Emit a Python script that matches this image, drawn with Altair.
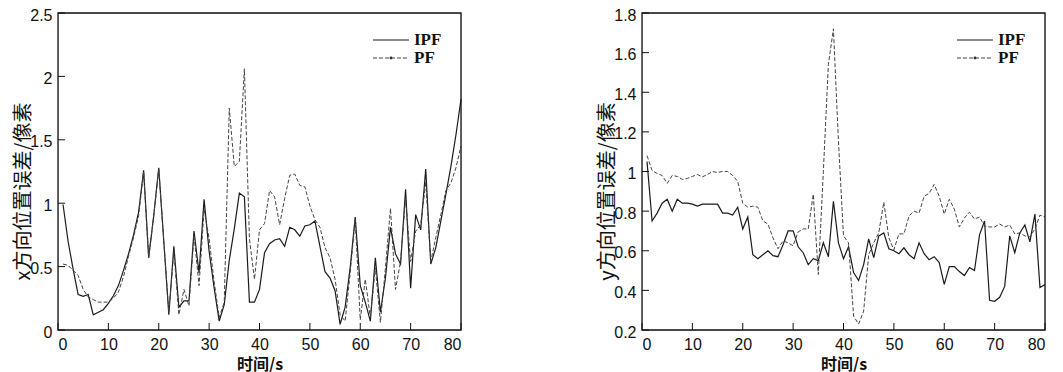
import altair as alt
import pandas as pd

t = list(range(1, 81))

left_ipf = [0.99, 0.70, 0.48, 0.28, 0.265, 0.28, 0.12, 0.14, 0.16, 0.21,
            0.27, 0.35, 0.47, 0.60, 0.75, 0.93, 1.26, 0.57, 0.90, 1.28,
            0.70, 0.12, 0.66, 0.18, 0.23, 0.23, 0.78, 0.45, 1.03, 0.62,
            0.33, 0.07, 0.20, 0.55, 0.80, 1.08, 1.05, 0.22, 0.22, 0.32,
            0.61, 0.68, 0.71, 0.72, 0.66, 0.81, 0.79, 0.74, 0.82, 0.83,
            0.86, 0.66, 0.46, 0.41, 0.31, 0.045, 0.18, 0.49, 0.89, 0.35,
            0.22, 0.07, 0.57, 0.14, 0.41, 0.81, 0.60, 0.52, 1.11, 0.33,
            0.91, 0.79, 1.27, 0.52, 0.65, 0.86, 1.07, 1.29, 1.54, 1.82]

left_pf = [0.52, 0.51, 0.47, 0.43, 0.32, 0.26, 0.24, 0.22, 0.22, 0.22,
           0.25, 0.30, 0.42, 0.58, 0.73, 0.90, 1.25, 0.57, 0.90, 1.27,
           0.70, 0.14, 0.62, 0.12, 0.32, 0.19, 0.75, 0.35, 0.95, 0.72,
           0.38, 0.10, 0.22, 1.75, 1.29, 1.33, 2.06, 0.72, 0.40, 0.79,
           0.84, 1.10, 1.05, 0.83, 1.04, 1.22, 1.23, 1.14, 1.13, 0.98,
           0.87, 0.81, 0.65, 0.57, 0.40, 0.12, 0.07, 0.45, 0.88, 0.08,
           0.40, 0.10, 0.49, 0.06, 0.49, 0.96, 0.32, 0.54, 1.04, 0.54,
           0.78, 0.83, 1.17, 0.54, 0.73, 0.91, 1.10, 1.16, 1.28, 1.45]

right_ipf = [1.05, 0.75, 0.79, 0.84, 0.86, 0.80, 0.86, 0.84, 0.84, 0.835,
             0.825, 0.835, 0.835, 0.835, 0.835, 0.79, 0.79, 0.78, 0.82, 0.71,
             0.77, 0.58, 0.56, 0.58, 0.60, 0.575, 0.57, 0.63, 0.70, 0.70,
             0.62, 0.59, 0.53, 0.56, 0.55, 0.64, 0.57, 0.85, 0.64, 0.56,
             0.62, 0.49, 0.45, 0.53, 0.66, 0.565, 0.675, 0.69, 0.61, 0.60,
             0.585, 0.615, 0.58, 0.56, 0.64, 0.585, 0.555, 0.57, 0.54, 0.43,
             0.52, 0.52, 0.495, 0.475, 0.515, 0.50, 0.68, 0.75, 0.35, 0.345,
             0.365, 0.42, 0.675, 0.59, 0.69, 0.73, 0.645, 0.785, 0.415, 0.43]

right_pf = [1.08, 1.005, 0.99, 0.98, 0.94, 0.98, 0.975, 0.96, 0.965, 0.975,
            0.985, 0.973, 0.985, 1.0, 0.995, 1.0, 1.0, 0.98, 0.95, 0.84,
            0.82, 0.825, 0.82, 0.75, 0.735, 0.665, 0.61, 0.65, 0.64, 0.625,
            0.695, 0.71, 0.71, 0.885, 0.48, 1.0, 1.54, 1.72, 1.15, 0.675,
            0.64, 0.27, 0.23, 0.295, 0.58, 0.64, 0.69, 0.845, 0.665, 0.605,
            0.685, 0.685, 0.775, 0.80, 0.79, 0.875, 0.89, 0.935, 0.875, 0.785,
            0.86, 0.81, 0.72, 0.765, 0.795, 0.76, 0.77, 0.725, 0.72, 0.72,
            0.735, 0.72, 0.73, 0.685, 0.69, 0.675, 0.67, 0.71, 0.78, 0.77]

x_ticks = [0, 10, 20, 30, 40, 50, 60, 70, 80]
left_yticks = [0, 0.5, 1, 1.5, 2, 2.5]
right_yticks = [0.2, 0.4, 0.6, 0.8, 1.0, 1.2, 1.4, 1.6, 1.8]
series_names = ["IPF", "PF"]
x_title = "时间/s"
left_ytitle = "x方向位置误差/像素"
right_ytitle = "y方向位置误差/像素"

W, H = 403, 317
TICK = 7


def panel(ipf, pf, ydom, yticks, ytitle):
    df = pd.DataFrame({"t": t, "IPF": ipf, "PF": pf})
    xs = alt.Scale(domain=[0, 80], nice=False)
    ys = alt.Scale(domain=ydom, nice=False, zero=False)
    xax = alt.Axis(values=x_ticks, ticks=False, grid=False, domain=False, labelOverlap=False,
                   labelFont="Liberation Sans", labelFontSize=16, labelColor="#111",
                   labelPadding=6, title=x_title, titleFont="Noto Sans CJK SC",
                   titleFontSize=16, titleFontWeight="bold", titleColor="#111",
                   titlePadding=4)
    yax = alt.Axis(values=yticks, ticks=False, grid=False, domain=False, format=".1~f",
                   labelOverlap=False, labelOffset=2,
                   labelFont="Liberation Sans", labelFontSize=16, labelColor="#111",
                   labelPadding=6, title=ytitle, titleFont="Noto Sans CJK SC",
                   titleFontSize=20, titleFontWeight="normal", titleColor="#111",
                   titlePadding=-4, titleY=178)
    base = alt.Chart(df)
    l_ipf = base.mark_line(color="#1a1a1a", strokeWidth=1.2).encode(
        x=alt.X("t:Q", scale=xs, axis=xax), y=alt.Y("IPF:Q", scale=ys, axis=yax))
    l_pf = base.mark_line(color="#444444", strokeWidth=1.0, strokeDash=[4, 2]).encode(
        x=alt.X("t:Q", scale=xs, axis=xax), y=alt.Y("PF:Q", scale=ys, axis=yax))
    xt = alt.Chart(pd.DataFrame({"v": x_ticks})).mark_rule(color="#111", strokeWidth=1).encode(
        x=alt.X("v:Q", scale=xs, axis=xax), y=alt.value(H), y2=alt.value(H - TICK))
    yt = alt.Chart(pd.DataFrame({"v": yticks})).mark_rule(color="#111", strokeWidth=1).encode(
        y=alt.Y("v:Q", scale=ys, axis=yax), x=alt.value(0), x2=alt.value(TICK))
    frame = alt.Chart(pd.DataFrame({"f": [0]})).mark_rect(
        fill=None, fillOpacity=0, stroke="#111", strokeWidth=1.3).encode(
        x=alt.value(0), x2=alt.value(W), y=alt.value(0), y2=alt.value(H))
    leg = pd.DataFrame({"name": series_names})
    leg_ipf = alt.Chart(leg[leg.name == "IPF"]).mark_rule(color="#1a1a1a", strokeWidth=1.2).encode(
        x=alt.value(315), x2=alt.value(351), y=alt.value(27))
    leg_pf = alt.Chart(leg[leg.name == "PF"]).mark_rule(color="#444", strokeWidth=1.0, strokeDash=[4, 2]).encode(
        x=alt.value(315), x2=alt.value(351), y=alt.value(45))
    leg_dot = alt.Chart(leg[leg.name == "PF"]).mark_circle(color="#333", size=8, opacity=1).encode(
        x=alt.value(333), y=alt.value(45))
    txt_style = dict(align="left", baseline="middle", font="Liberation Serif",
                     fontSize=17, fontWeight="bold", color="#111")
    leg_t1 = alt.Chart(leg[leg.name == "IPF"]).mark_text(**txt_style).encode(
        x=alt.value(356), y=alt.value(27), text="name:N")
    leg_t2 = alt.Chart(leg[leg.name == "PF"]).mark_text(**txt_style).encode(
        x=alt.value(356), y=alt.value(45), text="name:N")
    return alt.layer(l_ipf, l_pf, xt, yt, frame, leg_ipf, leg_pf, leg_dot, leg_t1, leg_t2).properties(
        width=W, height=H)


left = panel(left_ipf, left_pf, [0, 2.5], left_yticks, left_ytitle)
right = panel(right_ipf, right_pf, [0.2, 1.8], right_yticks, right_ytitle)

chart = alt.hconcat(left, right, spacing=133).resolve_scale(y="independent").properties(
    padding={"top": -2, "left": 5, "right": 0, "bottom": 0}).configure_view(
    strokeWidth=0).configure(background="white")

chart.save("out.html", embed_options={"renderer": "svg", "actions": False})
